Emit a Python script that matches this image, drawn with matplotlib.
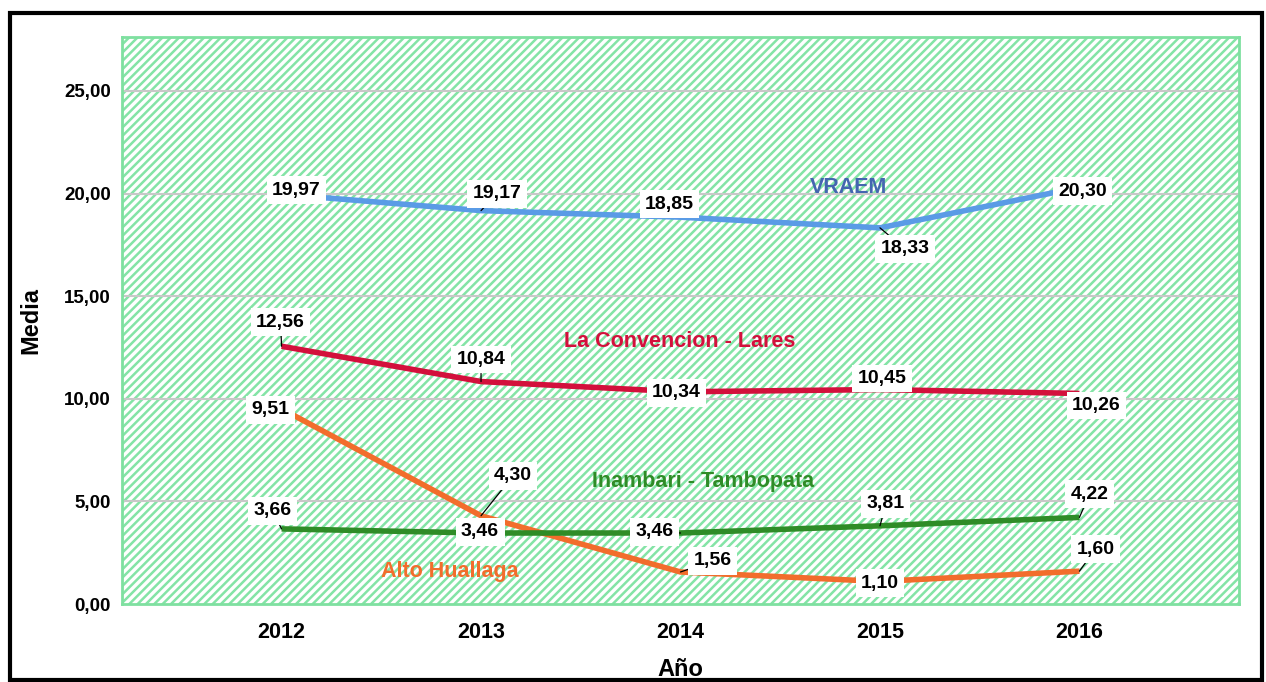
import matplotlib.pyplot as plt
from matplotlib.patches import Rectangle

plt.rcParams['font.family'] = ['Liberation Sans', 'DejaVu Sans']
plt.rcParams['hatch.linewidth'] = 1.8

years = ["2012", "2013", "2014", "2015", "2016"]
vraem = [19.97, 19.17, 18.85, 18.33, 20.30]
convencion = [12.56, 10.84, 10.34, 10.45, 10.26]
alto_huallaga = [9.51, 4.30, 1.56, 1.10, 1.60]
inambari = [3.66, 3.46, 3.46, 3.81, 4.22]

# label offsets in pixels (dx, dy) for each point
vraem_off = [(15, 4), (16, 17), (-11, 13), (25, -21), (3, -4)]
conv_off = [(-1, 24), (0, 22), (-4, -1), (2, 11), (17, -12)]
alto_off = [(-11, -1), (32, 40), (32, 11), (0, -2), (16, 22)]
inam_off = [(-9, 18), (-1, 1), (-26, 1), (6, 22), (10, 23)]

fig = plt.figure(figsize=(12.66, 6.82), dpi=100)
ax = fig.add_axes([122 / 1266, 1 - 604 / 682, (1239 - 122) / 1266, (604 - 37) / 682])

# outer black frame
fig.patches.append(Rectangle((10 / 1266, 1 - 680 / 682), 1252 / 1266, 667 / 682,
                             transform=fig.transFigure, fill=False,
                             edgecolor="black", linewidth=3, zorder=0))

ax.set_xlim(-0.8, 4.8)
ax.set_ylim(0, 27.63)
ax.add_patch(Rectangle((0, 0), 1, 1, transform=ax.transAxes, facecolor="white",
                       hatch="////", edgecolor="#84e4a6", linewidth=0, zorder=0))
for s in ax.spines.values():
    s.set_color("#7fe0a0")
    s.set_linewidth(2)

for g in [5, 10, 15, 20, 25]:
    ax.axhline(g, color="#c8c8c8", linewidth=1.5, zorder=1)

x = list(range(len(years)))
series = [
    (vraem, vraem_off, "#5a9be6"),
    (convencion, conv_off, "#d3103c"),
    (alto_huallaga, alto_off, "#f26d2c"),
    (inambari, inam_off, "#2f8c27"),
]
for vals, offs, col in series:
    ax.plot(x, vals, color=col, linewidth=4, solid_capstyle="butt", zorder=3)
for vals, offs, col in series:
    for xi, v, (dx, dy) in zip(x, vals, offs):
        ax.annotate(f"{v:.2f}".replace(".", ","), (xi, v), xytext=(dx, dy),
                    textcoords="offset pixels", ha="center", va="center",
                    fontsize=14, fontweight="bold", zorder=5,
                    bbox=dict(boxstyle="square,pad=0.28", facecolor="white", edgecolor="none"),
                    arrowprops=dict(arrowstyle="-", color="black", lw=0.9,
                                    shrinkA=0, shrinkB=0))

ax.text(2.84, 20.3, "VRAEM", color="#4466b0", fontsize=15.5, fontweight="bold",
        ha="center", va="center", zorder=4)
ax.text(1.995, 12.8, "La Convencion - Lares", color="#d3103c", fontsize=15.5,
        fontweight="bold", ha="center", va="center", zorder=4)
ax.text(2.115, 5.95, "Inambari - Tambopata", color="#2f8c27", fontsize=15.5,
        fontweight="bold", ha="center", va="center", zorder=4)
ax.text(0.845, 1.6, "Alto Huallaga", color="#f26d2c", fontsize=15.5,
        fontweight="bold", ha="center", va="center", zorder=4)

ax.set_xticks(x)
ax.set_xticklabels(years, fontsize=15.5, fontweight="bold")
ax.set_yticks([0, 5, 10, 15, 20, 25])
ax.set_yticklabels(["0,00", "5,00", "10,00", "15,00", "20,00", "25,00"],
                   fontsize=13.5, fontweight="bold")
ax.tick_params(length=0, pad=8)
ax.tick_params(axis="x", pad=13)
ax.set_xlabel("Año", fontsize=17, fontweight="bold", labelpad=11)
ax.set_ylabel("Media", fontsize=17, fontweight="bold", labelpad=16)

fig.savefig("out.png", dpi=100)
